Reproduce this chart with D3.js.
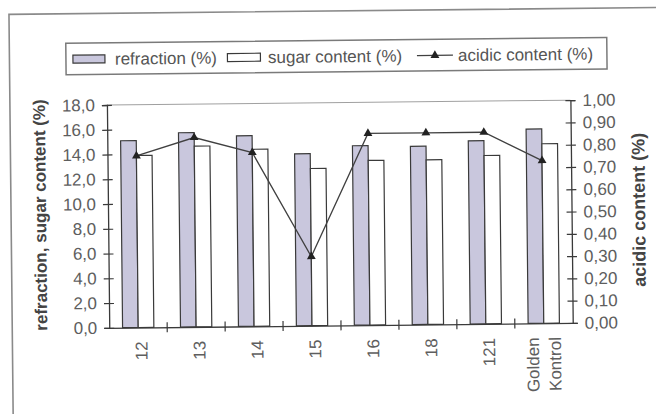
<!DOCTYPE html>
<html>
<head>
<meta charset="utf-8">
<script src="https://cdn.jsdelivr.net/npm/d3@7"></script>
<style>
  html, body { margin: 0; padding: 0; background: #fff; }
  svg { display: block; font-family: "Liberation Sans", Arial, sans-serif; }
</style>
</head>
<body>
<svg id="chart" width="656" height="414"></svg>
<script>
// ---- data ----
const categories = ["12", "13", "14", "15", "16", "18", "121", "Golden Kontrol"];
const refraction = [15.1, 15.7, 15.4, 13.9, 14.5, 14.4, 14.8, 15.7];
const sugar      = [13.9, 14.6, 14.3, 12.7, 13.3, 13.3, 13.6, 14.5];
const acidic     = [0.77, 0.85, 0.78, 0.31, 0.86, 0.86, 0.86, 0.73];
const leftTicks  = [0, 2, 4, 6, 8, 10, 12, 14, 16, 18];
const rightTicks = [0, 0.1, 0.2, 0.3, 0.4, 0.5, 0.6, 0.7, 0.8, 0.9, 1.0];
const seriesNames = ["refraction (%)", "sugar content (%)", "acidic content (%)"];
const leftTitle = "refraction, sugar content (%)";
const rightTitle = "acidic content (%)";

// ---- layout ----
const plotL = 108, plotR = 571.5, plotT = 102.7, plotB = 325.5;
const barFill = "#c9c7dd", dark = "#3a3a3a", tickText = "#5e5e5e";

const locale = d3.formatLocale({decimal: ",", thousands: ".", grouping: [3], currency: ["", ""]});
const fmt1 = locale.format(".1f"), fmt2 = locale.format(".2f");

const svg = d3.select("#chart");
const root = svg.append("g").attr("transform", "rotate(-0.6 328 207)");

// outer frame
root.append("path")
  .attr("d", "M11,480V11H720")
  .attr("fill", "none").attr("stroke", "#8a8a8a").attr("stroke-width", 1.6);

const x = d3.scaleBand().domain(categories).range([plotL, plotR]).paddingInner(0).paddingOuter(0);
const yL = d3.scaleLinear().domain([0, 18]).range([plotB, plotT]);
const yR = d3.scaleLinear().domain([0, 1]).range([plotB, plotT]);
const bw = x.bandwidth() * 0.27;
const cx = d => x(d) + x.bandwidth() / 2;

// top border of plot
root.append("line")
  .attr("x1", plotL).attr("x2", plotR).attr("y1", yL(18)).attr("y2", yL(18))
  .attr("stroke", "#a0a0a0").attr("stroke-width", 1);

// bars
root.append("g").selectAll("rect").data(categories).join("rect")
  .attr("x", d => cx(d) - bw).attr("width", bw)
  .attr("y", (d, i) => yL(refraction[i])).attr("height", (d, i) => yL(0) - yL(refraction[i]))
  .attr("fill", barFill).attr("stroke", dark).attr("stroke-width", 1.2);
root.append("g").selectAll("rect").data(categories).join("rect")
  .attr("x", d => cx(d)).attr("width", bw)
  .attr("y", (d, i) => yL(sugar[i])).attr("height", (d, i) => yL(0) - yL(sugar[i]))
  .attr("fill", "#fff").attr("stroke", dark).attr("stroke-width", 1.2);

// left axis
const gL = root.append("g").attr("transform", `translate(${plotL},0)`)
  .call(d3.axisLeft(yL).tickValues(leftTicks).tickFormat(fmt1).tickSize(5).tickPadding(7));
gL.select(".domain").attr("stroke", dark).attr("stroke-width", 1.3);
gL.selectAll(".tick line").attr("x1", 5).attr("stroke", dark).attr("stroke-width", 1.2);
gL.selectAll(".tick text").attr("fill", tickText).attr("font-size", 17)
  .attr("font-family", "'Liberation Sans', Arial, sans-serif");

// right axis
const gR = root.append("g").attr("transform", `translate(${plotR},0)`)
  .call(d3.axisRight(yR).tickValues(rightTicks).tickFormat(fmt2).tickSize(5).tickPadding(7));
gR.select(".domain").attr("stroke", dark).attr("stroke-width", 1.3);
gR.selectAll(".tick line").attr("x1", -5).attr("stroke", dark).attr("stroke-width", 1.2);
gR.selectAll(".tick text").attr("fill", tickText).attr("font-size", 17)
  .attr("font-family", "'Liberation Sans', Arial, sans-serif");

// bottom axis
const gB = root.append("g").attr("transform", `translate(0,${plotB})`)
  .call(d3.axisBottom(x).tickSize(0));
gB.select(".domain").attr("stroke", dark).attr("stroke-width", 1.3);
gB.selectAll(".tick text").remove();
gB.selectAll(".tick").append("text")
  .attr("transform", "rotate(-90)")
  .attr("text-anchor", "end")
  .attr("fill", tickText).attr("font-size", 17)
  .attr("font-family", "'Liberation Sans', Arial, sans-serif")
  .each(function(d) {
    const t = d3.select(this);
    const parts = d.split(" ");
    if (parts.length === 1) {
      t.append("tspan").attr("x", -14).attr("y", 9).text(d);
    } else {
      t.append("tspan").attr("x", -14).attr("y", -5).text(parts[0]);
      t.append("tspan").attr("x", -14).attr("y", 17).text(parts[1]);
    }
  });
// category boundary ticks (crossing)
root.append("g").selectAll("line").data(categories.slice(1)).join("line")
  .attr("x1", d => x(d)).attr("x2", d => x(d))
  .attr("y1", plotB - 5).attr("y2", plotB + 5)
  .attr("stroke", dark).attr("stroke-width", 1.2);

// acidic line
const line = d3.line().x((d, i) => cx(categories[i])).y(d => yR(d));
root.append("path").datum(acidic).attr("d", line)
  .attr("fill", "none").attr("stroke", "#404040").attr("stroke-width", 1.3);
const tri = d3.symbol().type(d3.symbolTriangle).size(34);
root.append("g").selectAll("path").data(acidic).join("path")
  .attr("d", tri)
  .attr("transform", (d, i) => `translate(${cx(categories[i])},${yR(d)})`)
  .attr("fill", "#222");

// axis titles
root.append("text")
  .attr("transform", "translate(46,212) rotate(-90)")
  .attr("text-anchor", "middle").attr("font-weight", "bold").attr("font-size", 17)
  .attr("fill", "#444").text(leftTitle);
root.append("text")
  .attr("transform", "translate(645,213) rotate(-90)")
  .attr("text-anchor", "middle").attr("font-weight", "bold").attr("font-size", 18)
  .attr("fill", "#444").text(rightTitle);

// legend
const lg = root.append("g");
lg.append("rect").attr("x", 67.5).attr("y", 40.5).attr("width", 541).attr("height", 31.5)
  .attr("fill", "#fff").attr("stroke", "#7a7a7a").attr("stroke-width", 1.5);
const ly = 56.5;
lg.append("rect").attr("x", 74.5).attr("y", ly - 4).attr("width", 32).attr("height", 8)
  .attr("fill", barFill).attr("stroke", dark).attr("stroke-width", 1.2);
lg.append("text").attr("x", 116.5).attr("y", ly).attr("dy", "0.35em")
  .attr("font-size", 17).attr("fill", "#555").text(seriesNames[0]);
lg.append("rect").attr("x", 229).attr("y", ly - 4).attr("width", 33).attr("height", 8)
  .attr("fill", "#fff").attr("stroke", dark).attr("stroke-width", 1.2);
lg.append("text").attr("x", 269.5).attr("y", ly).attr("dy", "0.35em")
  .attr("font-size", 17).attr("fill", "#555").text(seriesNames[1]);
lg.append("line").attr("x1", 418.5).attr("x2", 454.5).attr("y1", ly).attr("y2", ly)
  .attr("stroke", "#404040").attr("stroke-width", 1.3);
lg.append("path").attr("d", tri).attr("transform", `translate(436.5,${ly})`).attr("fill", "#222");
lg.append("text").attr("x", 459.5).attr("y", ly).attr("dy", "0.35em")
  .attr("font-size", 17).attr("fill", "#555").text(seriesNames[2]);
</script>
</body>
</html>
